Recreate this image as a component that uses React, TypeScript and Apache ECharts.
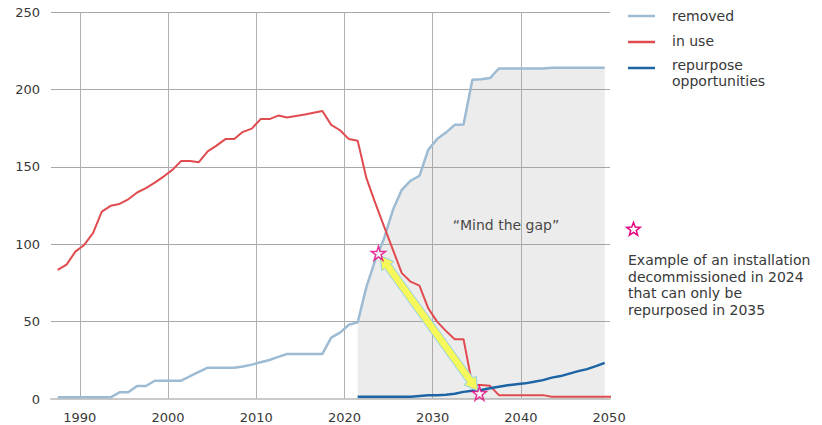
import React, { useEffect, useRef } from "react";
import * as echarts from "echarts";

// Annual values (tonnes / installations), first value = 1987
const FIRST_YEAR = 1987;
const inUse = [
  83.4, 86.8, 95.2, 99.5, 107.1, 121, 124.8, 126, 129, 133.4,
  136.2, 139.8, 143.7, 148, 153.7, 153.7, 153, 160, 163.7, 167.9,
  167.9, 172.6, 174.7, 180.8, 180.8, 183.1, 181.8, 182.8, 183.8, 184.9,
  186, 177.1, 173.6, 167.9, 166.8, 142.5, 126.5, 111.4, 96.3, 81.3,
  75.8, 73.2, 58.6, 50, 44, 38.6, 38.6, 9, 9, 8.5,
  2.5, 2.5, 2.5, 2.5, 2.5, 2.5, 1.5, 1.5, 1.5, 1.5,
  1.5, 1.5, 1.5, 1.5,
];
const removed = [
  1.1, 1.1, 1.1, 1.1, 1.1, 1.1, 1.1, 4.3, 4.3, 8.4,
  8.4, 11.8, 11.8, 11.8, 11.8, 14.7, 17.5, 20.2, 20.2, 20.2,
  20.2, 21, 22.2, 23.7, 25.2, 27.2, 29.1, 29.1, 29.1, 29.1,
  29.1, 39.6, 42.9, 48, 49.5, 72.6, 89.9, 103.9, 122.2, 135.1,
  141, 144.2, 161, 167.9, 172.1, 177.1, 177.4, 206.2, 206.6, 207.3,
  213.5, 213.5, 213.5, 213.5, 213.5, 213.5, 214, 214, 214, 214,
  214, 214, 214,
];
const REPURPOSE_START = 2021;
const repurpose = [
  1.5, 1.5, 1.5, 1.5, 1.5, 1.5, 1.5, 2.0, 2.4, 2.5,
  2.7, 3.4, 4.6, 5.3, 5.8, 6.9, 7.9, 8.9, 9.6, 10.1,
  11.1, 12.2, 13.8, 14.8, 16.4, 18.0, 19.3, 21.2, 23.3,
];
const GAP_START = 2021; // shaded "gap" region starts here
const xLabelYears = [1990, 2000, 2010, 2020, 2030, 2040, 2050];
const xGridYears = [1990, 2000, 2010, 2020, 2030, 2040];
// example installation: decommissioned ~2024, repurposed ~2035
const exampleStars = [
  [2023.35, 94.2],
  [2034.8, 3.7],
];
const legendLabels = ["removed", "in use", "repurpose", "opportunities"];
const noteLines = [
  "Example of an installation",
  "decommissioned in 2024",
  "that can only be",
  "repurposed in 2035",
];

const MID = 0.5; // yearly values are plotted at mid-year
const FONT = "'DejaVu Sans', sans-serif";
const TEXT = "#383838";
const C_REMOVED = "#9dbbd3";
const C_INUSE = "#e04b4f";
const C_REPURPOSE = "#1c64a4";
const C_STAR = "#e5007d";

const STAR_PATH =
  "path://M50,2 L61.2,36.6 L97.6,36.6 L68.2,58 L79.4,92.6 L50,71.2 L20.6,92.6 L31.8,58 L2.4,36.6 L38.8,36.6 Z";

function starPoly(cx: number, cy: number, r: number) {
  const pts: number[][] = [];
  for (let i = 0; i < 10; i++) {
    const rr = i % 2 === 0 ? r : r * 0.42;
    const a = -Math.PI / 2 + (i * Math.PI) / 5;
    pts.push([cx + rr * Math.cos(a), cy + rr * Math.sin(a)]);
  }
  return pts;
}

function arrowPoly(p1: number[], p2: number[]) {
  const dx = p2[0] - p1[0];
  const dy = p2[1] - p1[1];
  const len = Math.hypot(dx, dy);
  const u = [dx / len, dy / len];
  const n = [-u[1], u[0]];
  const a = [p1[0] + u[0] * 3, p1[1] + u[1] * 3];
  const b = [p2[0] - u[0] * 3, p2[1] - u[1] * 3];
  const hl = 13, hh = 7.5, sh = 3.8;
  const P = (base: number[], ul: number, nl: number) => [
    base[0] + u[0] * ul + n[0] * nl,
    base[1] + u[1] * ul + n[1] * nl,
  ];
  return [
    a,
    P(a, hl, hh),
    P(a, hl, sh),
    P(b, -hl, sh),
    P(b, -hl, hh),
    b,
    P(b, -hl, -hh),
    P(b, -hl, -sh),
    P(a, hl, -sh),
    P(a, hl, -hh),
  ];
}

export default function App() {
  const ref = useRef<HTMLDivElement>(null);
  useEffect(() => {
    if (!ref.current) return;
    const chart = echarts.init(ref.current, null, { renderer: "svg" });
    const toXY = (arr: number[], start: number) =>
      arr.map((v, i) => [start + i + MID, v]);
    const removedData = toXY(removed, FIRST_YEAR);
    const gapData = removedData.filter((d) => d[0] >= GAP_START);

    chart.setOption({
      animation: false,
      textStyle: { fontFamily: FONT },
      grid: { left: 51, right: 212, top: 12, bottom: 26 },
      xAxis: {
        type: "value",
        min: 1986.74,
        max: 2050.1,
        axisLine: { show: true, lineStyle: { color: "#c9c9c9", width: 2 } },
        axisTick: { show: false, customValues: xGridYears },
        axisLabel: {
          customValues: xLabelYears,
          color: TEXT,
          fontSize: 13,
          fontFamily: FONT,
          margin: 12,
          formatter: (v: number) => String(v),
        },
        splitLine: { show: true, lineStyle: { color: "#b0b0b0", width: 1 } },
      },
      yAxis: {
        type: "value",
        min: 0,
        max: 250,
        interval: 50,
        axisLine: { show: false },
        axisTick: { show: false },
        axisLabel: {
          color: TEXT,
          fontSize: 13,
          fontFamily: FONT,
          margin: 11,
          padding: [3, 0, 0, 0],
        },
        splitLine: { lineStyle: { color: "#a8a8a8", width: 1 } },
      },
      series: [
        {
          name: "gap",
          type: "line",
          data: gapData,
          symbol: "none",
          lineStyle: { width: 0 },
          areaStyle: { color: "rgba(150,150,150,0.26)" },
          z: 1,
          silent: true,
        },
        {
          name: "removed",
          type: "line",
          data: removedData,
          symbol: "none",
          lineStyle: { color: C_REMOVED, width: 2.5 },
          z: 2,
        },
        {
          name: "in use",
          type: "line",
          data: toXY(inUse, FIRST_YEAR),
          symbol: "none",
          lineStyle: { color: C_INUSE, width: 2 },
          z: 3,
        },
        {
          name: "repurpose opportunities",
          type: "line",
          data: toXY(repurpose, REPURPOSE_START),
          symbol: "none",
          lineStyle: { color: C_REPURPOSE, width: 2.5 },
          z: 4,
        },
        {
          name: "example",
          type: "scatter",
          data: exampleStars.map((p) => [p[0] + MID, p[1]]),
          symbol: STAR_PATH,
          symbolSize: 14,
          itemStyle: { color: "#ffffff", borderColor: C_STAR, borderWidth: 1.5 },
          z: 20,
        },
      ],
    });

    const s1 = chart.convertToPixel({ gridIndex: 0 }, [
      exampleStars[0][0] + MID,
      exampleStars[0][1],
    ]) as number[];
    const s2 = chart.convertToPixel({ gridIndex: 0 }, [
      exampleStars[1][0] + MID,
      exampleStars[1][1],
    ]) as number[];

    const legendLines = [
      { color: C_REMOVED, y: 16 },
      { color: C_INUSE, y: 42 },
      { color: C_REPURPOSE, y: 68 },
    ];
    const legendTextY = [16, 41, 65, 81];
    const noteY = [260, 276.6, 293.2, 309.8];
    const txt = (s: string, x: number, y: number, extra: any = {}) => ({
      type: "text",
      x,
      y,
      style: {
        text: s,
        fill: TEXT,
        font: `14px ${FONT}`,
        verticalAlign: "middle",
        ...extra,
      },
    });

    chart.setOption({
      graphic: [
        {
          type: "polygon",
          z: 10,
          shape: { points: arrowPoly(s1, s2) },
          style: { fill: "#f6f75a", stroke: "#8fd0e6", lineWidth: 1 },
          silent: true,
        },
        txt("\u201cMind the gap\u201d", 506, 225, { align: "center" }),
        ...legendLines.map((it) => ({
          type: "line",
          shape: { x1: 628, y1: it.y, x2: 655, y2: it.y },
          style: { stroke: it.color, lineWidth: 2.5 },
        })),
        ...legendLabels.map((s, i) => txt(s, 672, legendTextY[i])),
        {
          type: "polygon",
          shape: { points: starPoly(633.5, 229.5, 7) },
          style: { fill: "#ffffff", stroke: C_STAR, lineWidth: 1.5 },
        },
        ...noteLines.map((s, i) => txt(s, 628, noteY[i])),
      ],
    });

    return () => chart.dispose();
  }, []);
  return (
    <div
      ref={ref}
      style={{ position: "absolute", left: 0, top: 0, width: 822, height: 425 }}
    />
  );
}
